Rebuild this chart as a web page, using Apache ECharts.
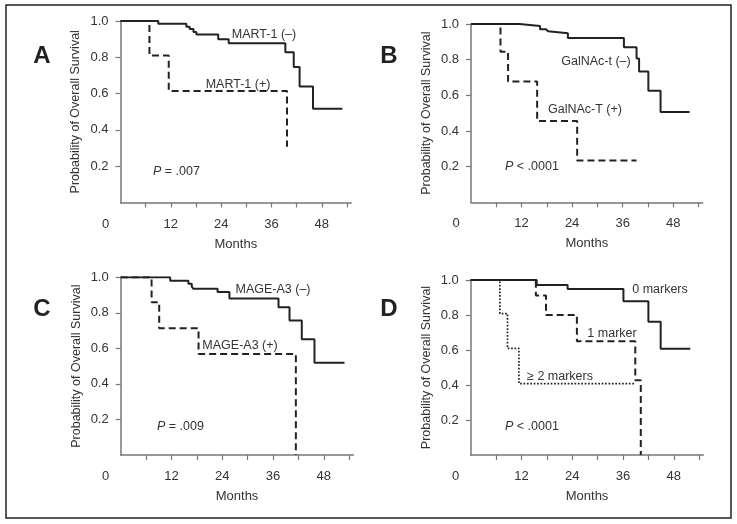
<!DOCTYPE html>
<html>
<head>
<meta charset="utf-8">
<script src="https://cdn.jsdelivr.net/npm/echarts@6/dist/echarts.min.js"></script>
<style>
html,body{margin:0;padding:0;background:#fff;}
#c{width:737px;height:524px;}
</style>
</head>
<body>
<div id="c"></div>
<script>
// ---- Data (months, survival probability) ----
var xTickLabels = [0, 12, 24, 36, 48];
var xMinorTicks = [6, 12, 18, 24, 30, 36, 42, 48, 54];
var yTickLabels = [0.2, 0.4, 0.6, 0.8, 1.0];

var martNegMonths = [0, 9.0, 15.7, 16.5, 17.4, 18.1, 23.3, 25.8, 39.3, 41.3, 42.7, 45.9, 52.9];
var martNegSurv   = [1, 0.985, 0.969, 0.956, 0.94, 0.926, 0.90, 0.878, 0.828, 0.746, 0.639, 0.516, 0.516];
var martPosMonths = [0, 6.9, 11.5, 39.7];
var martPosSurv   = [1, 0.81, 0.615, 0.307];

var galNegMonths = [0, 11.5, 16.4, 17.8, 18.3, 23.0, 36.3, 39.3, 39.9, 42.1, 45.0, 51.9];
var galNegSurv   = [1, 0.989, 0.97, 0.959, 0.948, 0.921, 0.869, 0.807, 0.733, 0.626, 0.507, 0.507];
var galPosMonths = [0, 7.0, 8.8, 15.7, 25.2, 39.3];
var galPosSurv   = [1, 0.845, 0.677, 0.456, 0.234, 0.234];

var mageNegMonths = [0, 11.7, 16.0, 16.8, 17.2, 22.9, 25.7, 37.3, 39.9, 42.8, 45.8, 52.9];
var mageNegSurv   = [1, 0.981, 0.963, 0.948, 0.935, 0.917, 0.88, 0.831, 0.757, 0.652, 0.519, 0.519];
var magePosMonths = [0, 7.3, 9.1, 18.4, 41.4];
var magePosSurv   = [1, 0.859, 0.713, 0.569, 0];

var zeroMonths = [0, 15.6, 22.9, 36.1, 42.0, 44.9, 51.9];
var zeroSurv   = [1, 0.972, 0.948, 0.879, 0.762, 0.607, 0.607];
var oneMonths  = [0, 15.4, 17.8, 25.1, 38.9, 40.2];
var oneSurv    = [1, 0.911, 0.8, 0.65, 0.427, 0];
var twoMonths  = [0, 6.9, 8.7, 11.4, 38.9];
var twoSurv    = [1, 0.808, 0.609, 0.408, 0.408];

function pairs(xs, ys){ return xs.map(function(x,i){ return [x, ys[i]]; }); }

var FONT = 'Liberation Sans, Arial, Helvetica, sans-serif';
var TXT = '#333';
var LINE = '#222';
var AXIS = '#777';

var grids = [
  {left:120.5, top:21,    width:230.7, height:181.5},
  {left:471,   top:24,    width:231.7, height:178.3},
  {left:120.7, top:277.3, width:232.7, height:177.7},
  {left:470.7, top:280,   width:232.7, height:175}
];

var xAxes = [], yAxes = [];
grids.forEach(function(g, i){
  xAxes.push({
    type:'value', gridIndex:i, min:0, max:55,
    name:'Months', nameLocation:'middle', nameGap:35,
    nameTextStyle:{fontFamily:FONT, fontSize:13, color:TXT},
    axisLine:{show:true, onZero:false, lineStyle:{color:AXIS, width:1.5}},
    axisTick:{show:true, length:5, inside:false, customValues:xMinorTicks, lineStyle:{color:AXIS, width:1.2}},
    axisLabel:{customValues:xTickLabels, margin:15, fontFamily:FONT, fontSize:13, color:TXT,
      formatter:function(v){ return v === 0 ? '{z|0}' : String(v); },
      rich:{z:{fontFamily:FONT, fontSize:13, color:TXT, padding:[0,30,0,0]}}},
    splitLine:{show:false}
  });
  yAxes.push({
    type:'value', gridIndex:i, min:0, max:1,
    name:'Probability of Overall Survival', nameLocation:'middle', nameGap:38,
    nameTextStyle:{fontFamily:FONT, fontSize:12.5, color:TXT},
    axisLine:{show:true, onZero:false, lineStyle:{color:AXIS, width:1.5}},
    axisTick:{show:true, length:5, customValues:yTickLabels, lineStyle:{color:AXIS, width:1.2}},
    axisLabel:{customValues:yTickLabels, margin:12, fontFamily:FONT, fontSize:13, color:TXT,
      formatter:function(v){ return v.toFixed(1); }},
    splitLine:{show:false}
  });
});

var SOLID = {color:LINE, width:2, type:'solid'};
var DASH  = {color:LINE, width:2, type:[7,4]};
var DOT   = {color:LINE, width:1.7, type:[1.7,1.7]};

function s(idx, xs, ys, style){
  return {type:'line', xAxisIndex:idx, yAxisIndex:idx, data:pairs(xs, ys), step:'end',
    showSymbol:false, symbol:'none', lineStyle:style, silent:true, animation:false};
}

var series = [
  s(0, martNegMonths, martNegSurv, SOLID),
  s(0, martPosMonths, martPosSurv, DASH),
  s(1, galNegMonths, galNegSurv, SOLID),
  s(1, galPosMonths, galPosSurv, DASH),
  s(2, mageNegMonths, mageNegSurv, SOLID),
  s(2, magePosMonths, magePosSurv, DASH),
  s(3, zeroMonths, zeroSurv, SOLID),
  s(3, oneMonths, oneSurv, DASH),
  s(3, twoMonths, twoSurv, DOT)
];

function label(text, x, y){
  return {type:'text', x:x, y:y, style:{text:text, fontFamily:FONT, fontSize:12.5, fill:TXT, align:'center', verticalAlign:'middle'}};
}
function pval(rest, x, y){
  return {type:'text', x:x, y:y, style:{text:'{i|P}{n|' + rest + '}', align:'left', verticalAlign:'middle',
    rich:{i:{fontFamily:FONT, fontSize:12.5, fontStyle:'italic', fill:TXT}, n:{fontFamily:FONT, fontSize:12.5, fill:TXT}}}};
}
function letter(t, x, y){
  return {type:'text', x:x, y:y, style:{text:t, fontFamily:FONT, fontSize:24, fontWeight:'bold', fill:'#222', align:'center', verticalAlign:'middle'}};
}

var graphics = [
  {type:'rect', shape:{x:6, y:5, width:725, height:513}, style:{fill:'none', stroke:'#222', lineWidth:1.5}},
  letter('A', 42, 56), letter('B', 389, 56), letter('C', 42, 309), letter('D', 389, 309),
  label('MART-1 (\u2013)', 264, 35), label('MART-1 (+)', 238, 85), pval(' = .007', 153, 172),
  label('GalNAc-t (\u2013)', 596, 62), label('GalNAc-T (+)', 585, 110), pval(' < .0001', 505, 167),
  label('MAGE-A3 (\u2013)', 273, 290), label('MAGE-A3 (+)', 240, 346), pval(' = .009', 157, 427),
  label('0 markers', 660, 290), label('1 marker', 612, 334), label('\u2265 2 markers', 560, 377), pval(' < .0001', 505, 427)
];

var chart = echarts.init(document.getElementById('c'), null, {renderer:'canvas'});
chart.setOption({
  animation:false,
  backgroundColor:'#fff',
  grid:grids,
  xAxis:xAxes,
  yAxis:yAxes,
  series:series,
  graphic:graphics
});
</script>
</body>
</html>
